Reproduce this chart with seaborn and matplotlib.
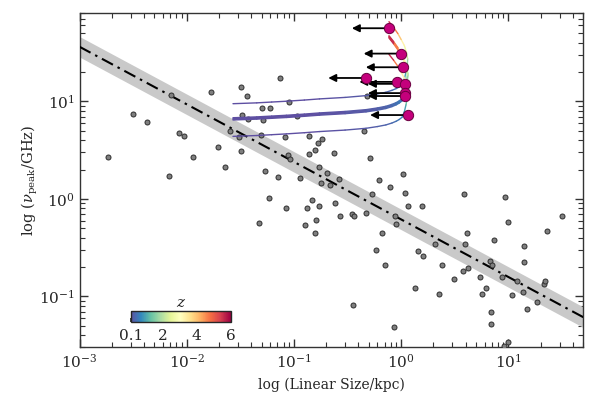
import matplotlib
matplotlib.use("Agg")
import matplotlib.pyplot as plt
import seaborn as sns
import numpy as np
import pandas as pd
from matplotlib.collections import LineCollection
from matplotlib.colors import Normalize
from matplotlib.cm import ScalarMappable

# gray sample: log10 of linear size (kpc) and of peak frequency (GHz)
log_size = [
    -2.73, -2.50, -2.37, -2.15, -2.17, -2.07, -2.03, -1.94, -1.77, -1.71,
    -1.64, -1.60, -1.49, -1.44, -1.48, -1.43, -1.51, -1.49, -1.30, -1.22,
    -1.05, -1.29, -0.97, -1.31, -1.08, -0.86, -0.35, -0.32, -1.13, -0.78,
    -0.74, -0.80, -0.86, -1.06, -1.04, -0.63, -0.29, -1.27, -1.15, -0.94,
    -0.77, -0.69, -0.58, -0.75, -0.66, -0.21, -0.10, 0.02, 0.04, -0.27,
    -1.23, -0.83, -0.88, -0.77, -0.62, -1.07, -0.57, -0.46, -0.44, -0.33,
    -0.06, 0.06, 0.19, -1.33, -0.79, -0.90, -0.05, -0.80, -0.18, -0.23,
    -0.15, -0.45, -0.07, 0.13, 0.16, 0.20, 0.38, 0.35, 0.49, 0.32,
    0.59, 0.61, 0.60, 0.58, 0.62, 0.74, 0.75, 0.79, 0.87, 0.83,
    0.85, 0.84, 0.84, 0.94, 0.97, 1.00, 1.03, 1.08, 1.14, 1.15,
    1.15, 1.17, 1.27, 1.33, 1.34, 1.36, 1.50, 0.96, 1.00,
]
log_nu = [
    0.43, 0.87, 0.79, 1.07, 0.24, 0.68, 0.65, 0.43, 1.10, 0.53,
    0.33, 0.70, 1.15, 1.06, 0.86, 0.82, 0.63, 0.49, 0.93, 0.93,
    0.99, 0.81, 0.85, 0.66, 0.64, 0.65, 0.70, 1.06, 1.24, 0.57,
    0.61, 0.50, 0.46, 0.45, 0.41, 0.47, 0.42, 0.29, 0.22, 0.21,
    0.33, 0.27, 0.20, 0.16, 0.14, 0.19, 0.12, 0.26, 0.06, 0.05,
    0.01, -0.01, -0.09, -0.07, -0.04, -0.09, -0.17, -0.15, -0.18, -0.14,
    -0.18, -0.07, -0.07, -0.25, -0.22, -0.27, -0.26, -0.35, -0.35, -0.52,
    -0.68, -1.09, -1.31, -0.91, -0.53, -0.59, -0.68, -0.97, -0.82, -0.46,
    0.05, -0.35, -0.46, -0.74, -0.71, -0.80, -0.97, -0.91, -0.42, -0.64,
    -0.68, -1.16, -1.28, -0.80, 0.02, -0.24, -0.98, -0.84, -0.95, -0.48,
    -0.65, -1.13, -1.06, -0.87, -0.84, -0.33, -0.17, -1.51, -1.47,
]

# upper limits on size (magenta)
lim_log_size = [-0.11, 0.00, 0.02, -0.33, -0.04, 0.04, 0.04, 0.04, 0.06]
lim_log_nu = [1.75, 1.49, 1.35, 1.24, 1.20, 1.18, 1.085, 1.055, 0.86]

# redshift tracks: size and frequency boost
track_z = [0.01, 0.03, 0.05, 0.07, 0.10, 0.13, 0.17, 0.22, 0.27, 0.32, 0.38, 0.44,
           0.50, 0.58, 0.80, 1.13, 1.5, 1.9, 2.4, 3.0, 3.6, 4.3, 5.1, 6.0]
track_size = [0.027, 0.045, 0.062, 0.085, 0.125, 0.173, 0.30, 0.47, 0.60, 0.72, 0.82, 0.90,
              0.96, 1.02, 1.07, 1.11, 1.14, 1.15, 1.12, 1.07, 1.00, 0.93, 0.85, 0.77]
track_boost = [1.00, 1.02, 1.04, 1.06, 1.09, 1.12, 1.16, 1.21, 1.26, 1.31, 1.37, 1.43,
               1.49, 1.57, 1.78, 2.11, 2.48, 2.88, 3.38, 3.96, 4.55, 5.25, 6.04, 6.93]
track_nu_start = [9.47, 6.80, 6.68, 6.56, 6.45, 4.38]

# O'Dea relation: log nu = a + b log LS, with scatter
fit_a = -0.21
fit_b = -0.59
fit_scatter = 0.105

cbar_ticks = [0.1, 2, 4, 6]

sns.set_theme(style="ticks")
plt.rcParams["font.family"] = ["DejaVu Serif"]
plt.rcParams["mathtext.fontset"] = "dejavuserif"

fig = plt.figure(figsize=(5.98, 3.97), dpi=100)
ax = fig.add_axes([0.133, 0.1247, 0.8424, 0.8418])
ax.set_xscale("log")
ax.set_yscale("log")
xlim = (1e-3, 50)
ax.set_xlim(xlim)
ax.set_ylim(0.03, 80)

# relation and band
lx = np.linspace(np.log10(xlim[0]), np.log10(xlim[1]), 50)
ly = fit_a + fit_b * lx
ax.fill_between(10**lx, 10**(ly - fit_scatter), 10**(ly + fit_scatter),
                color="#c9c9c9", lw=0, zorder=1)
sns.lineplot(x=10**lx, y=10**ly, ax=ax, color="black", lw=1.5,
             linestyle=(0, (6, 2.5, 1.2, 2.5)), zorder=3)

# sample
df = pd.DataFrame({"size": 10**np.array(log_size), "nu": 10**np.array(log_nu)})
sns.scatterplot(data=df, x="size", y="nu", ax=ax, s=13, color="#7f7f7f",
                edgecolor="#2e2e2e", linewidth=0.7, zorder=4)

# redshift tracks coloured by z
norm = Normalize(vmin=0.1, vmax=6)
cmap = plt.get_cmap("Spectral_r")
tz = np.array(track_z)
ts = np.array(track_size)
tb = np.array(track_boost)
for nu0 in track_nu_start:
    pts = np.column_stack([ts, nu0 * tb])
    segs = np.stack([pts[:-1], pts[1:]], axis=1)
    zmid = 0.5 * (tz[:-1] + tz[1:])
    lc = LineCollection(segs, colors=cmap(norm(zmid)), linewidths=1.0, zorder=5,
                        capstyle="round", joinstyle="round")
    ax.add_collection(lc)

# upper limits
arrow_dex = 0.35
for sx, sy in zip(lim_log_size, lim_log_nu):
    ax.annotate("", xy=(10**(sx - arrow_dex), 10**sy), xytext=(10**sx, 10**sy),
                arrowprops=dict(arrowstyle="-|>", color="black", lw=1.3,
                                mutation_scale=11, shrinkA=0, shrinkB=0),
                zorder=6)
dl = pd.DataFrame({"size": 10**np.array(lim_log_size), "nu": 10**np.array(lim_log_nu)})
sns.scatterplot(data=dl, x="size", y="nu", ax=ax, s=55, color="#c4007c",
                edgecolor="#6a0040", linewidth=0.7, zorder=7)

ax.set_xlabel("log (Linear Size/kpc)", fontsize=10, labelpad=5)
ax.set_ylabel(r"log ($\nu_{\rm peak}$/GHz)", fontsize=10.5, labelpad=-1)
ax.tick_params(which="both", direction="in", top=True, right=True, labelsize=11,
               color="#333333")
ax.tick_params(which="major", length=6, width=1.0)
ax.tick_params(which="minor", length=3.5, width=0.8)
for sp in ax.spines.values():
    sp.set_color("#333333")
    sp.set_linewidth(1.0)

# colorbar inset
cax = fig.add_axes([0.2186, 0.188, 0.1672, 0.0285])
sm = ScalarMappable(norm=norm, cmap=cmap)
cb = fig.colorbar(sm, cax=cax, orientation="horizontal", ticks=cbar_ticks)
cb.ax.set_xticklabels(["0.1", "2", "4", "6"])
cb.ax.tick_params(direction="in", length=3, labelsize=11, pad=5)
cb.outline.set_linewidth(1.0)
cax.set_title("$z$", fontsize=11, pad=3)

fig.savefig("out.png", dpi=100)
